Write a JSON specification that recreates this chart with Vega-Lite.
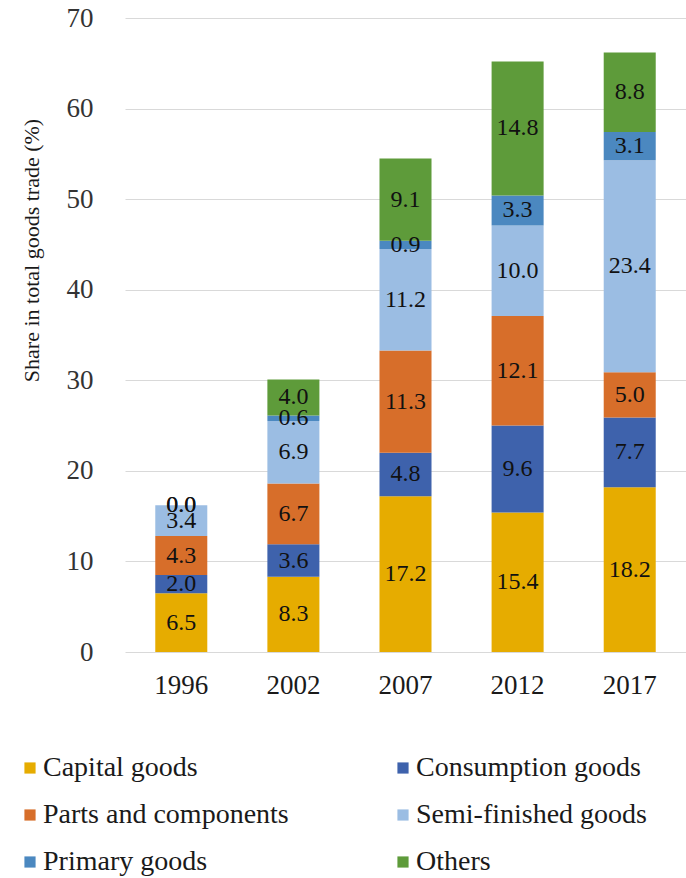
{
  "$schema": "https://vega.github.io/schema/vega-lite/v6.json",
  "autosize": {"type": "none"},
  "padding": {"left": 125, "top": 18, "right": 0, "bottom": 226},
  "width": 561,
  "height": 634,
  "background": "white",
  "config": {
    "view": {"stroke": null},
    "font": "'Liberation Serif', 'Times New Roman', serif"
  },
  "data": {
    "values": [
      {"year": "1996", "cat": "Capital goods", "ord": 1, "v": 6.5},
      {"year": "1996", "cat": "Consumption goods", "ord": 2, "v": 2.0},
      {"year": "1996", "cat": "Parts and components", "ord": 3, "v": 4.3},
      {"year": "1996", "cat": "Semi-finished goods", "ord": 4, "v": 3.4},
      {"year": "1996", "cat": "Primary goods", "ord": 5, "v": 0.0},
      {"year": "1996", "cat": "Others", "ord": 6, "v": 0.0},
      {"year": "2002", "cat": "Capital goods", "ord": 1, "v": 8.3},
      {"year": "2002", "cat": "Consumption goods", "ord": 2, "v": 3.6},
      {"year": "2002", "cat": "Parts and components", "ord": 3, "v": 6.7},
      {"year": "2002", "cat": "Semi-finished goods", "ord": 4, "v": 6.9},
      {"year": "2002", "cat": "Primary goods", "ord": 5, "v": 0.6},
      {"year": "2002", "cat": "Others", "ord": 6, "v": 4.0},
      {"year": "2007", "cat": "Capital goods", "ord": 1, "v": 17.2},
      {"year": "2007", "cat": "Consumption goods", "ord": 2, "v": 4.8},
      {"year": "2007", "cat": "Parts and components", "ord": 3, "v": 11.3},
      {"year": "2007", "cat": "Semi-finished goods", "ord": 4, "v": 11.2},
      {"year": "2007", "cat": "Primary goods", "ord": 5, "v": 0.9},
      {"year": "2007", "cat": "Others", "ord": 6, "v": 9.1},
      {"year": "2012", "cat": "Capital goods", "ord": 1, "v": 15.4},
      {"year": "2012", "cat": "Consumption goods", "ord": 2, "v": 9.6},
      {"year": "2012", "cat": "Parts and components", "ord": 3, "v": 12.1},
      {"year": "2012", "cat": "Semi-finished goods", "ord": 4, "v": 10.0},
      {"year": "2012", "cat": "Primary goods", "ord": 5, "v": 3.3},
      {"year": "2012", "cat": "Others", "ord": 6, "v": 14.8},
      {"year": "2017", "cat": "Capital goods", "ord": 1, "v": 18.2},
      {"year": "2017", "cat": "Consumption goods", "ord": 2, "v": 7.7},
      {"year": "2017", "cat": "Parts and components", "ord": 3, "v": 5.0},
      {"year": "2017", "cat": "Semi-finished goods", "ord": 4, "v": 23.4},
      {"year": "2017", "cat": "Primary goods", "ord": 5, "v": 3.1},
      {"year": "2017", "cat": "Others", "ord": 6, "v": 8.8}
    ]
  },
  "transform": [
    {"stack": "v", "groupby": ["year"], "sort": [{"field": "ord", "order": "ascending"}], "as": ["y0", "y1"]},
    {"calculate": "(datum.y0 + datum.y1) / 2", "as": "ymid"}
  ],
  "encoding": {
    "x": {
      "field": "year", "type": "ordinal",
      "scale": {"paddingInner": 0.536, "paddingOuter": 0.27},
      "axis": {
        "title": null, "labelAngle": 0, "domain": false, "ticks": false,
        "labelFont": "'Liberation Serif', 'Times New Roman', serif", "labelFontSize": 27, "labelColor": "#1a1a1a",
        "labelPadding": 20
      }
    }
  },
  "layer": [
    {
      "mark": {"type": "bar"},
      "encoding": {
        "y": {
          "field": "y0", "type": "quantitative",
          "scale": {"domain": [0, 70]},
          "axis": {
            "values": [0, 10, 20, 30, 40, 50, 60, 70],
            "title": "Share in total goods trade  (%)",
            "titleFont": "'Liberation Serif', 'Times New Roman', serif", "titleFontSize": 22, "titleFontWeight": "normal",
            "titleColor": "#1a1a1a",
            "titleX": -82, "titleY": 232, "titleAngle": -90, "titleBaseline": "bottom", "titleAlign": "center",
            "labelFont": "'Liberation Serif', 'Times New Roman', serif", "labelFontSize": 27, "labelColor": "#333333",
            "labelPadding": 32, "domain": false, "ticks": false,
            "grid": true, "gridColor": "#d9d9d9", "gridWidth": 1
          }
        },
        "y2": {"field": "y1"},
        "color": {
          "field": "cat", "type": "nominal",
          "sort": ["Capital goods", "Consumption goods", "Parts and components", "Semi-finished goods", "Primary goods", "Others"],
          "scale": {
            "domain": ["Capital goods", "Consumption goods", "Parts and components", "Semi-finished goods", "Primary goods", "Others"],
            "range": ["#E6AC00", "#3E62AC", "#D76E2A", "#9BBDE3", "#4B88C0", "#5E9B3A"]
          },
          "legend": {
            "title": null, "orient": "none", "legendX": -109, "legendY": 736,
            "direction": "horizontal", "columns": 2,
            "symbolType": "square", "symbolSize": 125, "symbolStrokeWidth": 0,
            "labelFont": "'Liberation Serif', 'Times New Roman', serif", "labelFontSize": 28, "labelColor": "#1a1a1a",
            "labelOffset": -1, "rowPadding": 19, "columnPadding": 100, "labelLimit": 400
          }
        }
      }
    },
    {
      "mark": {"type": "text", "font": "'Liberation Serif', 'Times New Roman', serif", "fontSize": 24, "color": "#111111", "baseline": "middle"},
      "encoding": {
        "y": {"field": "ymid", "type": "quantitative"},
        "text": {"field": "v", "type": "quantitative", "format": ".1f"}
      }
    }
  ]
}
